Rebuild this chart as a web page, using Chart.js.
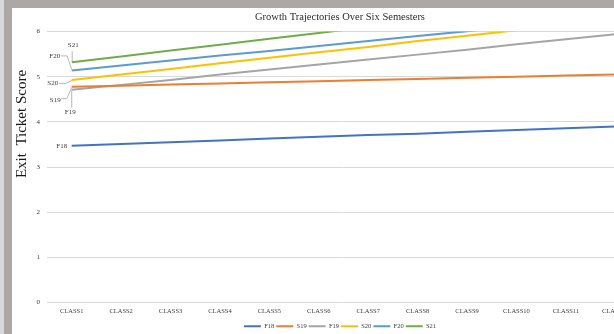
<!DOCTYPE html>
<html>
<head>
<meta charset="utf-8">
<script src="https://cdn.jsdelivr.net/npm/chart.js@4/dist/chart.umd.min.js"></script>
<style>
  html, body { margin: 0; padding: 0; width: 614px; height: 334px; overflow: hidden; background: #aca8a6; }
  #edge { position: absolute; left: 0; top: 0; width: 4px; height: 334px; background: #d8d8d8; }
  #panel { position: absolute; left: 12px; top: 8px; width: 656px; height: 334px; background: #ffffff; }
  canvas { display: block; }
</style>
</head>
<body>
<div id="edge"></div>
<div id="panel"><canvas id="c" width="656" height="334"></canvas></div>
<script>
// Categories along the x axis
const classes = ['CLASS1', 'CLASS2', 'CLASS3', 'CLASS4', 'CLASS5', 'CLASS6',
                 'CLASS7', 'CLASS8', 'CLASS9', 'CLASS10', 'CLASS11', 'CLASS12'];

// Exit ticket score per semester cohort
const F18 = [3.47, 3.51, 3.55, 3.59, 3.63, 3.67, 3.71, 3.74, 3.78, 3.82, 3.86, 3.90];
const S19 = [4.78, 4.80, 4.83, 4.85, 4.88, 4.90, 4.93, 4.95, 4.98, 5.00, 5.03, 5.05];
const F19 = [4.71, 4.82, 4.93, 5.05, 5.16, 5.27, 5.38, 5.49, 5.60, 5.72, 5.83, 5.94];
const S20 = [4.93, 5.05, 5.17, 5.30, 5.42, 5.54, 5.66, 5.79, 5.91, 6.03, 6.15, 6.28];
const F20 = [5.14, 5.25, 5.36, 5.47, 5.57, 5.68, 5.79, 5.90, 6.01, 6.12, 6.23, 6.34];
const S21 = [5.32, 5.45, 5.58, 5.71, 5.84, 5.97, 6.10, 6.23, 6.36, 6.49, 6.62, 6.75];

// Y axis tick values
const yTicks = [0, 1, 2, 3, 4, 5, 6];

const SERIF = '"Liberation Serif", "DejaVu Serif", serif';

const series = [
  { label: 'F18', data: F18, color: '#4472C4' },
  { label: 'S19', data: S19, color: '#ED7D31' },
  { label: 'F19', data: F19, color: '#A5A5A5' },
  { label: 'S20', data: S20, color: '#FFC000' },
  { label: 'F20', data: F20, color: '#5B9BD5' },
  { label: 'S21', data: S21, color: '#70AD47' }
];

// Placement of the first-point data labels, with optional leader lines (offsets from the point)
const labelPlacement = {
  S21: { dx: 1.5, dy: -17.5, leader: [[0.5, -11], [0.5, -1]] },
  F20: { dx: -17, dy: -14, leader: [[-11, -14.5], [-4.5, -14.5], [0, -1]] },
  S20: { dx: -19, dy: 3.5, leader: [[-12.5, 3.5], [-6, 3.5], [0, 0.5]] },
  S19: { dx: -16.5, dy: 13, leader: [[-10.5, 12], [-5, 12], [0, 1]] },
  F19: { dx: -1.5, dy: 22.5, leader: [[0, 18], [0, 0.5]] },
  F18: { dx: -10, dy: 0, leader: null }
};

const firstPointLabels = {
  id: 'firstPointLabels',
  afterDatasetsDraw(chart) {
    const ctx = chart.ctx;
    ctx.save();
    chart.data.datasets.forEach((ds, i) => {
      const meta = chart.getDatasetMeta(i);
      const pt = meta.data[0];
      const place = labelPlacement[ds.label];
      if (!pt || !place) return;
      if (place.leader) {
        ctx.beginPath();
        ctx.strokeStyle = '#a6a6a6';
        ctx.lineWidth = 0.8;
        place.leader.forEach(([lx, ly], k) => {
          if (k === 0) ctx.moveTo(pt.x + lx, pt.y + ly);
          else ctx.lineTo(pt.x + lx, pt.y + ly);
        });
        ctx.stroke();
      }
      ctx.fillStyle = '#404040';
      ctx.font = '7px ' + SERIF;
      ctx.textAlign = 'center';
      ctx.textBaseline = 'middle';
      ctx.fillText(ds.label, pt.x + place.dx, pt.y + place.dy);
    });
    ctx.restore();
  }
};

// Rotated y-axis title, placed beside the upper part of the axis
const yAxisTitle = {
  id: 'yAxisTitle',
  afterDraw(chart) {
    const ctx = chart.ctx;
    ctx.save();
    ctx.translate(10.5, 116);
    ctx.rotate(-Math.PI / 2);
    ctx.fillStyle = '#1a1a1a';
    ctx.font = '15px ' + SERIF;
    ctx.textAlign = 'center';
    ctx.textBaseline = 'middle';
    ctx.fillText('Exit  Ticket Score', 0, 0);
    ctx.restore();
  }
};

new Chart(document.getElementById('c'), {
  type: 'line',
  data: {
    labels: classes,
    datasets: series.map(s => ({
      label: s.label,
      data: s.data,
      yAxisID: 'y',
      borderColor: s.color,
      backgroundColor: s.color,
      borderWidth: 2,
      pointRadius: 0,
      pointHoverRadius: 0,
      tension: 0,
      fill: false
    }))
  },
  options: {
    responsive: false,
    animation: false,
    events: [],
    layout: { padding: { left: 0, right: 0, top: 0, bottom: 2.5 } },
    plugins: {
      title: {
        display: true,
        text: 'Growth Trajectories Over Six Semesters',
        color: '#2b2b2b',
        font: { family: SERIF, size: 10.5, weight: 'normal' },
        padding: { top: 3, bottom: 8 }
      },
      legend: {
        position: 'bottom',
        labels: {
          color: '#404040',
          font: { family: SERIF, size: 6.5 },
          boxWidth: 17,
          boxHeight: 2,
          padding: 2,
          generateLabels(chart) {
            return Chart.defaults.plugins.legend.labels.generateLabels(chart).map(l => {
              l.lineWidth = 0;
              l.fillStyle = l.strokeStyle;
              return l;
            });
          }
        }
      },
      tooltip: { enabled: false }
    },
    scales: {
      x: {
        type: 'category',
        offset: true,
        grid: { display: false, drawTicks: false },
        border: { display: false },
        ticks: {
          color: '#404040',
          font: { family: SERIF, size: 6.5 },
          padding: 5,
          maxRotation: 0,
          autoSkip: false
        },
        afterFit(scale) { scale.height = 18.5; }
      },
      y: {
        min: 0,
        max: 6,
        afterBuildTicks(scale) { scale.ticks = yTicks.map(v => ({ value: v })); },
        grid: { color: '#d9d9d9', lineWidth: 1, drawTicks: false },
        border: { display: false },
        ticks: {
          color: '#404040',
          font: { family: SERIF, size: 7 },
          padding: 7
        },
        afterFit(scale) { scale.width = 35; }
      },
      // empty right-hand margin axis (keeps the plot inset from the chart's right edge)
      yRight: {
        position: 'right',
        min: 0,
        max: 6,
        grid: { display: false, drawTicks: false },
        border: { display: false },
        ticks: { display: false },
        afterFit(scale) { scale.width = 28; }
      }
    }
  },
  plugins: [firstPointLabels, yAxisTitle]
});
</script>
</body>
</html>
